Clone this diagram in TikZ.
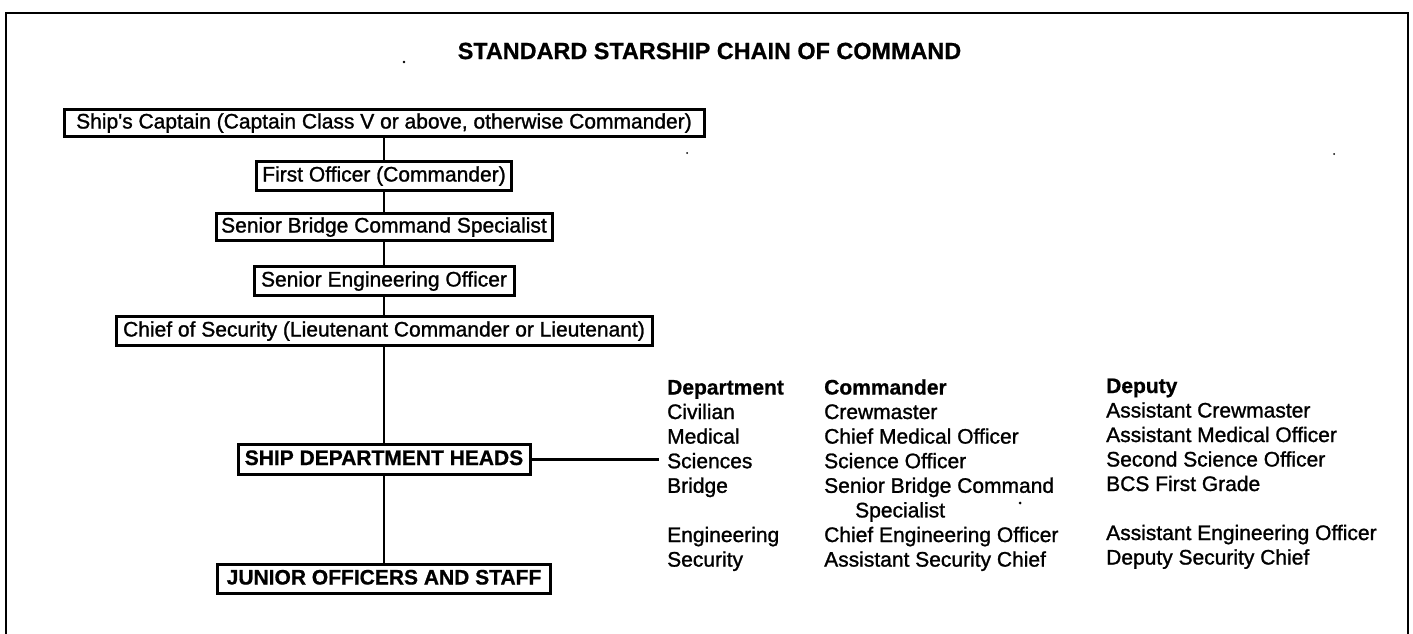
\documentclass[tikz,border=0pt]{standalone}
\usepackage{fontspec}
\setmainfont{Liberation Sans}
\newfontfamily\inkreg{Liberation Sans}[FakeBold=1.2]
\newfontfamily\inkbold{Liberation Sans Bold}[FakeBold=0.8]
\begin{document}
\begin{tikzpicture}[x=1pt,y=-1pt,
  chainbox/.style={draw, line width=3pt, inner sep=0pt, text height=15.5pt, text depth=4.5pt,
    font=\fontsize{21}{24}\inkreg},
  capsbox/.style={chainbox, font=\fontsize{21}{24}\inkbold},
  link/.style={line width=2.8pt},
  cell/.style={anchor=base west, inner sep=0pt, font=\fontsize{21}{24}\inkreg},
  headcell/.style={cell, font=\fontsize{21}{24}\inkbold},
  speck/.style={fill=black, draw=none}]
\useasboundingbox (0,0) rectangle (1413,634);
\draw[line width=2.8pt] (6,634) -- (6,13) -- (1408,13) -- (1408,634);

\node[font=\fontsize{23.4}{26}\inkbold, inner sep=0pt] (title) at (709.5,51)
  {STANDARD STARSHIP CHAIN OF COMMAND};

\node[chainbox, minimum width=640pt, minimum height=27pt] (cap) at (384,123)
  {Ship's Captain (Captain Class V or above, otherwise Commander)};
\node[chainbox, minimum width=255pt, minimum height=29pt] (fo) at (384,176)
  {First Officer (Commander)};
\node[chainbox, minimum width=336pt, minimum height=27pt] (sbcs) at (384,227)
  {Senior Bridge Command Specialist};
\node[chainbox, minimum width=260pt, minimum height=29pt] (seo) at (384,281)
  {Senior Engineering Officer};
\node[chainbox, minimum width=536pt, minimum height=29pt] (cos) at (384,331)
  {Chief of Security (Lieutenant Commander or Lieutenant)};
\node[capsbox, minimum width=292pt, minimum height=30pt] (heads) at (384,459.5)
  {SHIP DEPARTMENT HEADS};
\node[capsbox, minimum width=333pt, minimum height=29pt] (junior) at (384,579)
  {JUNIOR OFFICERS AND STAFF};

\draw[link] (cap) -- (fo);
\draw[link] (fo) -- (sbcs);
\draw[link] (sbcs) -- (seo);
\draw[link] (seo) -- (cos);
\draw[link] (cos) -- (heads);
\draw[link] (heads) -- (junior);
\coordinate (tbl) at (659,459.5);
\draw[link] (heads.east) -- (tbl);

% table
\node[headcell] (h1) at (667,394.5) {Department};
\node[headcell] (h2) at (824,394.5) {Commander};
\node[headcell] (h3) at (1106,393) {Deputy};

\node[cell] (d1) at (667,419) {Civilian};
\node[cell] (c1) at (824,419) {Crewmaster};
\node[cell] (p1) at (1106,417.5) {Assistant Crewmaster};

\node[cell] (d2) at (667,443.6) {Medical};
\node[cell] (c2) at (824,443.6) {Chief Medical Officer};
\node[cell] (p2) at (1106,442) {Assistant Medical Officer};

\node[cell] (d3) at (667,468.2) {Sciences};
\node[cell] (c3) at (824,468.2) {Science Officer};
\node[cell] (p3) at (1106,466.5) {Second Science Officer};

\node[cell] (d4) at (667,492.8) {Bridge};
\node[cell] (c4) at (824,492.8) {Senior Bridge Command};
\node[cell] (p4) at (1106,491) {BCS First Grade};
\node[cell] (c4b) at (855,517.4) {Specialist};

\node[cell] (d5) at (667,542) {Engineering};
\node[cell] (c5) at (824,542) {Chief Engineering Officer};
\node[cell] (p5) at (1106,540) {Assistant Engineering Officer};

\node[cell] (d6) at (667,566.6) {Security};
\node[cell] (c6) at (824,566.6) {Assistant Security Chief};
\node[cell] (p6) at (1106,564.5) {Deputy Security Chief};

% specks
\fill[speck] (404,62) circle (1.3pt);
\fill[speck] (687,153) circle (1pt);
\fill[speck] (1334,154) circle (1pt);
\fill[speck] (1020,503) circle (1.5pt);
\end{tikzpicture}
\end{document}
